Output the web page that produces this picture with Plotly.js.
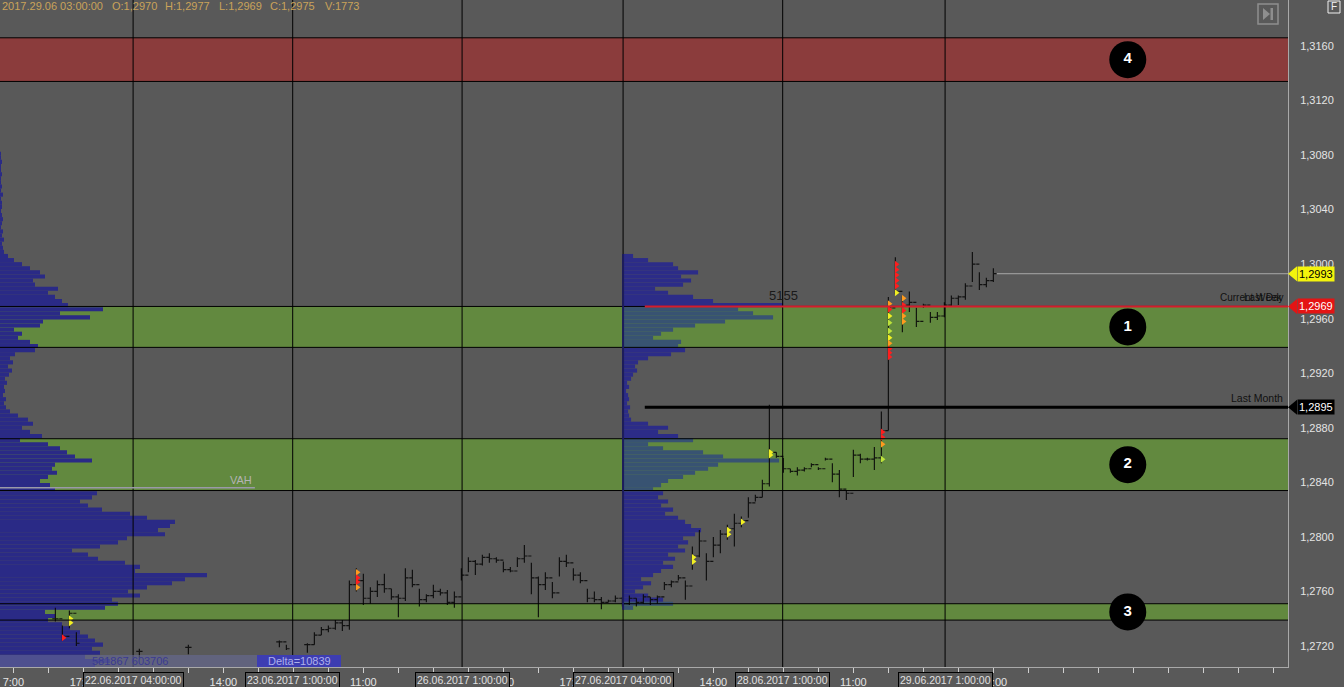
<!DOCTYPE html>
<html><head><meta charset="utf-8">
<script src="https://cdn.plot.ly/plotly-3.0.1.min.js"></script>
<style>html,body{margin:0;padding:0;background:#595959;overflow:hidden}#chart{width:1344px;height:687px}</style>
</head><body><div id="chart"></div>
<script>
// ---------------- DATA ----------------
// Hourly bars (hour index on the time axis)
const barHourHead = [6, 7, 8, 9, 18, 25, 38, 39];
const barHourRunStart = 42, barHourRunEnd = 140;   // consecutive hours 42..140
const barHigh = [
  1.2748, 1.2735, 1.2746, 1.2730, 1.2718, 1.2721, 1.2724, 1.2721,
  1.2722, 1.2730, 1.2734, 1.2735, 1.2739, 1.2739, 1.2768, 1.2777,
  1.2773, 1.2763, 1.2768, 1.2773, 1.2762, 1.2758, 1.2777, 1.2776, 1.2762, 1.2758,
  1.2765, 1.2762, 1.2761, 1.2760, 1.2777, 1.2785, 1.2783, 1.2787, 1.2788, 1.2785,
  1.2782, 1.2778, 1.2785, 1.2794, 1.2781, 1.2771, 1.2774, 1.2767, 1.2785, 1.2787,
  1.2777, 1.2774, 1.2762, 1.2760, 1.2756, 1.2754, 1.2757, 1.2756, 1.2757, 1.2755,
  1.2758, 1.2756, 1.2757, 1.2767, 1.2768, 1.2772, 1.2768, 1.2793, 1.2805, 1.2788,
  1.2800, 1.2805, 1.2809, 1.2817, 1.2815, 1.2829, 1.2831, 1.2842, 1.2897, 1.2862,
  1.2858, 1.2850, 1.2851, 1.2851, 1.2854, 1.2851, 1.2858, 1.2854, 1.2849, 1.2834,
  1.2864, 1.2861, 1.2858, 1.2866, 1.2892, 1.2976, 1.3005, 1.2977, 1.2980, 1.2968,
  1.2971, 1.2965, 1.2965, 1.2972, 1.2977, 1.2977, 1.2986, 1.3009, 1.2994, 1.2990, 1.2997
];
const barLow = [
  1.2738, 1.2724, 1.2733, 1.2720, 1.2711, 1.2714, 1.2719, 1.2717,
  1.2715, 1.2721, 1.2728, 1.2730, 1.2732, 1.2731, 1.2732, 1.2760,
  1.2750, 1.2751, 1.2756, 1.2759, 1.2754, 1.2741, 1.2753, 1.2763, 1.2749, 1.2752,
  1.2755, 1.2757, 1.2750, 1.2748, 1.2768, 1.2774, 1.2772, 1.2779, 1.2781, 1.2781,
  1.2774, 1.2774, 1.2778, 1.2781, 1.2758, 1.2741, 1.2761, 1.2755, 1.2771, 1.2778,
  1.2768, 1.2766, 1.2752, 1.2752, 1.2747, 1.2752, 1.2752, 1.2749, 1.2750, 1.2749,
  1.2751, 1.2750, 1.2751, 1.2761, 1.2763, 1.2768, 1.2754, 1.2776, 1.2785, 1.2768,
  1.2785, 1.2788, 1.2798, 1.2793, 1.2807, 1.2814, 1.2826, 1.2829, 1.2837, 1.2858,
  1.2847, 1.2847, 1.2845, 1.2848, 1.2851, 1.2849, 1.2856, 1.2840, 1.2829, 1.2827,
  1.2844, 1.2854, 1.2856, 1.2849, 1.2854, 1.2878, 1.2978, 1.2950, 1.2965, 1.2954,
  1.2968, 1.2957, 1.2959, 1.2961, 1.2969, 1.2970, 1.2974, 1.2987, 1.2981, 1.2983, 1.2987
];
const barClose = [
  1.2740, 1.2727, 1.2744, 1.2722, 1.2716, 1.2719, 1.2723, 1.2718,
  1.2721, 1.2728, 1.2732, 1.2733, 1.2737, 1.2735, 1.2765, 1.2768,
  1.2755, 1.2760, 1.2765, 1.2762, 1.2756, 1.2755, 1.2770, 1.2765, 1.2754, 1.2757,
  1.2760, 1.2759, 1.2752, 1.2756, 1.2772, 1.2782, 1.2780, 1.2785, 1.2784, 1.2783,
  1.2776, 1.2775, 1.2784, 1.2786, 1.2770, 1.2765, 1.2770, 1.2759, 1.2782, 1.2781,
  1.2772, 1.2768, 1.2755, 1.2754, 1.2752, 1.2753, 1.2755, 1.2751, 1.2755, 1.2752,
  1.2756, 1.2754, 1.2756, 1.2765, 1.2767, 1.2770, 1.2764, 1.2786, 1.2797, 1.2782,
  1.2794, 1.2802, 1.2806, 1.2810, 1.2812, 1.2825, 1.2829, 1.2839, 1.2862, 1.2859,
  1.2850, 1.2848, 1.2849, 1.2850, 1.2853, 1.2850, 1.2857, 1.2846, 1.2835, 1.2832,
  1.2860, 1.2857, 1.2857, 1.2858, 1.2878, 1.2968, 1.2980, 1.2970, 1.2972, 1.2958,
  1.2970, 1.2961, 1.2962, 1.2970, 1.2975, 1.2976, 1.2984, 1.3000, 1.2985, 1.2988, 1.2993
];

// Footprint highlights (hour, price, intensity)
const hlHour  = [7, 8, 8, 49, 49, 49, 49, 97, 97, 102, 102, 104, 108, 108,
                 124, 124, 124, 124,
                 125, 125, 125, 125, 125, 125, 125, 125, 125, 125,
                 126, 126, 126, 126, 126, 126,
                 127, 127, 127, 127, 127];
const hlPrice = [1.2726, 1.2740, 1.2737, 1.2774, 1.2770, 1.2767, 1.2763, 1.2785, 1.2782, 1.2805, 1.2802, 1.2811, 1.2862, 1.2860,
                 1.2877, 1.2873, 1.2868, 1.2857,
                 1.2971, 1.2967, 1.2962, 1.2957, 1.2951, 1.2946, 1.2942, 1.2938, 1.2935, 1.2932,
                 1.3000, 1.2996, 1.2992, 1.2988, 1.2984, 1.2979,
                 1.2975, 1.2970, 1.2966, 1.2962, 1.2958];
const hlLevel = ["hot", "warm", "warm", "mid", "hot", "hot", "mid", "warm", "warm", "warm", "warm", "warm", "warm", "warm",
                 "hot", "hot", "mid", "cool",
                 "mid", "hot", "warm", "cool", "cool", "warm", "mid", "hot", "hot", "hot",
                 "hot", "hot", "hot", "hot", "hot", "warm",
                 "mid", "hot", "hot", "mid", "mid"];

// Volume profiles (relative volume per 0.0003 price level)
const LEVEL_STEP = 0.0003;
const leftProfileStart = 1.2706;
const leftVolume = [
  95,110,85,100,92,103,95,88,80,70,
  62,48,55,45,105,118,112,140,128,147,
  172,185,207,135,140,125,98,88,72,100,
  118,127,165,158,170,175,147,130,102,88,
  80,92,97,55,50,40,48,57,52,55,
  92,75,67,60,48,20,42,30,22,33,
  28,18,10,6,4,6,3,5,4,7,
  5,9,12,8,13,10,15,35,38,30,
  18,22,14,40,43,90,60,103,68,62,
  55,48,58,35,33,45,40,30,22,14,
  8,4,3,2,4,2,3,1,2,3,
  2,1,2,2,1,3,1,2,1,1,
  2,1,1,2,1,1
];
const rightProfileStart = 1.2748;
const rightVolume = [
  10,50,40,25,12,20,
  28,18,30,38,50,40,52,45,62,55,
  65,60,72,78,68,62,55,42,50,38,
  45,35,40,30,38,45,60,72,85,95,
  156,100,80,40,25,70,55,35,45,25,
  8,6,5,7,4,6,5,3,6,4,
  8,10,14,12,15,25,48,62,55,58,
  30,38,50,72,102,150,130,115,160,90,
  70,45,32,60,68,58,75,55,50,25,
  10
];
const pocVolumeLabel = "5155";

// Zones
const zoneLabel = ["4", "1", "2", "3"];
const zoneLow   = [1.3134, 1.2939, 1.2834, 1.2739];
const zoneHigh  = [1.3166, 1.2969, 1.2872, 1.2751];
const zoneKind  = ["supply", "demand", "demand", "demand"];

// Reference levels
const levelName  = ["Current Week", "Last Day", "Last Month"];
const levelPrice = [1.2969, 1.2969, 1.2895];
const lastPrice = 1.2993;
const vahPrice = 1.2836;

// Sessions
const sessionStart = [17.1, 39.9, 64.1, 87.1, 109.9, 133.1];
const sessionText = ["22.06.2017 04:00:00", "23.06.2017 1:00:00", "26.06.2017 1:00:00",
                     "27.06.2017 04:00:00", "28.06.2017 1:00:00", "29.06.2017 1:00:00"];

// Axis ticks
const xLabelHours = [0, 10, 30, 50, 70, 80, 100, 120, 140];
const xLabelText  = ["7:00", "17:00", "14:00", "11:00", "7:00", "17:00", "14:00", "11:00", "03:00"];
const yTickVals = [1.2720, 1.2760, 1.2800, 1.2840, 1.2880, 1.2920, 1.2960, 1.3000, 1.3040, 1.3080, 1.3120, 1.3160];
const yTickText = ["1,2720", "1,2760", "1,2800", "1,2840", "1,2880", "1,2920", "1,2960", "1,3000", "1,3040", "1,3080", "1,3120", "1,3160"];

const infoText = ["2017.29.06 03:00:00", "O:1,2970", "H:1,2977", "L:1,2969", "C:1,2975", "V:1773"];
const bottomStats = "581867 603706";
const deltaText = "Delta=10839";

// ---------------- LAYOUT / STYLE ----------------
const W = 1344, H = 687, PW = 1288, PH = 667;
const X_MIN = -1.914, X_MAX = 182.09;
const Y_MIN = 1.27046, Y_MAX = 1.319373;
const PROFILE_SCALE = 7;      // relative volume units per hour width
const LABEL_HOUR = 159.2;
const LEVEL_LINE_START = 90.2;
const VAH_END = 34.5;
const BG = "#595959";
const FONT = "Liberation Sans, Arial, sans-serif";
const zoneColor = {supply: "#8b3c3c", demand: "#62893f"};
const hlColor = {hot: "#ff1e1e", mid: "#ff9b1e", warm: "#f2f023", cool: "#bde23a"};

const px = v => v / PW;                 // pixel x -> paper x
const py = v => (PH - v) / PH;          // pixel y -> paper y
const pricePerPx = (Y_MAX - Y_MIN) / PH;

// derived bars
const barHour = barHourHead.slice();
for (let h = barHourRunStart; h <= barHourRunEnd; h++) barHour.push(h);
const barOpen = barClose.map((c, i) => (i > 0 && barHour[i] - barHour[i - 1] === 1) ? barClose[i - 1] : c);

const mkLevels = (start, n) => Array.from({length: n}, (_, k) => +(start + LEVEL_STEP * k).toFixed(4));
const leftLevels = mkLevels(leftProfileStart, leftVolume.length);
const rightLevels = mkLevels(rightProfileStart, rightVolume.length);
const inDemand = p => zoneKind.some((k, i) => k === "demand" && p >= zoneLow[i] && p <= zoneHigh[i]);
const rightColors = rightLevels.map(p => inDemand(p) ? "#385372" : "#2c2c88");
const pocIdx = rightVolume.indexOf(Math.max(...rightVolume));

const xTickVals = [];
for (let h = 0; h <= 180; h += 5) xTickVals.push(h);
const xTickText = xTickVals.map(h => { const k = xLabelHours.indexOf(h); return k >= 0 ? xLabelText[k] : ""; });

const traces = [
  {type: "bar", orientation: "h", y: leftLevels, x: leftVolume.map(v => v / PROFILE_SCALE),
   base: X_MIN, width: LEVEL_STEP, marker: {color: "#2a2a86", line: {width: 0}}, hoverinfo: "skip"},
  {type: "bar", orientation: "h", y: rightLevels, x: rightVolume.map(v => v / PROFILE_SCALE),
   base: sessionStart[3], width: LEVEL_STEP, marker: {color: rightColors, line: {width: 0}}, hoverinfo: "skip"},
  {type: "ohlc", x: barHour, open: barOpen, high: barHigh, low: barLow, close: barClose,
   tickwidth: 0.45,
   increasing: {line: {color: "rgba(10,10,10,0.9)", width: 1.2}},
   decreasing: {line: {color: "rgba(10,10,10,0.9)", width: 1.2}}, hoverinfo: "skip"},
  {type: "scatter", mode: "markers", x: hlHour.map(h => h + 0.15), y: hlPrice,
   marker: {symbol: "triangle-right", size: 6, color: hlLevel.map(l => hlColor[l]), line: {width: 0}}, hoverinfo: "skip"},
  {type: "scatter", mode: "markers+text", x: zoneLabel.map(() => LABEL_HOUR),
   y: zoneLow.map((lo, i) => (lo + zoneHigh[i]) / 2),
   text: zoneLabel.map(t => "<b>" + t + "</b>"), textposition: "middle center",
   textfont: {family: FONT, size: 15, color: "#ffffff"},
   marker: {size: 37, color: "#000000"}, hoverinfo: "skip", cliponaxis: false}
];

const shapes = [];
zoneLow.forEach((lo, i) => {
  shapes.push({type: "rect", xref: "x", yref: "y", x0: X_MIN, x1: X_MAX, y0: lo, y1: zoneHigh[i],
    fillcolor: zoneColor[zoneKind[i]], line: {width: 0}, layer: "below"});
  [lo, zoneHigh[i]].forEach(v => shapes.push({type: "line", xref: "x", yref: "y", x0: X_MIN, x1: X_MAX, y0: v, y1: v,
    line: {color: "#000000", width: 1}, layer: "above"}));
});
sessionStart.forEach(s => shapes.push({type: "line", xref: "x", yref: "paper", x0: s, x1: s, y0: 0, y1: 1,
  line: {color: "#000000", width: 1}, layer: "above"}));
// profile spine
shapes.push({type: "line", xref: "x", yref: "y", x0: sessionStart[3], x1: sessionStart[3],
  y0: rightLevels[0] - LEVEL_STEP / 2, y1: rightLevels[rightLevels.length - 1] + LEVEL_STEP / 2,
  line: {color: "#1c1c5e", width: 2}, layer: "above"});
// level lines
shapes.push({type: "line", xref: "x", yref: "y", x0: LEVEL_LINE_START, x1: X_MAX, y0: levelPrice[0], y1: levelPrice[0],
  line: {color: "#d41c2c", width: 2}, layer: "above"});
shapes.push({type: "line", xref: "x", yref: "y", x0: LEVEL_LINE_START, x1: X_MAX, y0: levelPrice[2], y1: levelPrice[2],
  line: {color: "#000000", width: 3}, layer: "above"});
shapes.push({type: "line", xref: "x", yref: "y", x0: barHour[barHour.length - 1] + 0.5, x1: X_MAX, y0: lastPrice, y1: lastPrice,
  line: {color: "#a8a8a8", width: 1}, layer: "above"});
shapes.push({type: "line", xref: "x", yref: "y", x0: X_MIN, x1: VAH_END, y0: vahPrice, y1: vahPrice,
  line: {color: "#9a9aa8", width: 1.5}, layer: "above"});
// price flags
const flags = [[lastPrice, "#f4f40c", "#000000"], [levelPrice[0], "#e41414", "#ffffff"], [levelPrice[2], "#000000", "#ffffff"]];
const halfH = 7.5 * pricePerPx;
flags.forEach(([p, bg]) => shapes.push({type: "path", xref: "paper", yref: "y",
  path: `M ${px(1288)},${p} L ${px(1297)},${p + halfH} L ${px(1297)},${p - halfH} Z`,
  fillcolor: bg, line: {width: 0}, layer: "above"}));
// bottom stats band and delta box
shapes.push({type: "rect", xref: "paper", yref: "paper", x0: 0, x1: px(257), y0: py(667), y1: py(655),
  fillcolor: "rgba(104,106,150,0.6)", line: {width: 0}, layer: "above"});
shapes.push({type: "rect", xref: "paper", yref: "paper", x0: px(257), x1: px(341), y0: py(667), y1: py(655),
  fillcolor: "#3d3db2", line: {width: 0}, layer: "above"});
// navigation button
shapes.push({type: "rect", xref: "paper", yref: "paper", x0: px(1258), x1: px(1278), y0: py(24), y1: py(4),
  line: {color: "#8e8e8e", width: 1.5}, layer: "above"});
shapes.push({type: "path", xref: "paper", yref: "paper",
  path: `M ${px(1263)},${py(8)} L ${px(1263)},${py(20)} L ${px(1270)},${py(14)} Z`,
  fillcolor: "#8e8e8e", line: {width: 0}, layer: "above"});
shapes.push({type: "rect", xref: "paper", yref: "paper", x0: px(1270.5), x1: px(1273), y0: py(20), y1: py(8),
  fillcolor: "#8e8e8e", line: {width: 0}, layer: "above"});
shapes.push({type: "rect", xref: "paper", yref: "paper", x0: px(1328), x1: px(1340), y0: py(13), y1: py(1),
  line: {color: "#f0f0f0", width: 1}, layer: "above"});

const annotations = [];
const infoX = [0, 110, 163, 217, 268, 323];
infoText.forEach((t, i) => annotations.push({xref: "paper", yref: "paper", x: px(infoX[i]), y: py(6),
  xanchor: "left", yanchor: "middle", text: t, showarrow: false,
  font: {family: FONT, size: 11, color: "#c9a35a"}}));
sessionStart.forEach((s, i) => annotations.push({xref: "x", yref: "paper", x: s, y: py(680),
  xanchor: "center", yanchor: "middle", text: sessionText[i], showarrow: false,
  bgcolor: BG, bordercolor: "#000000", borderwidth: 1, borderpad: 1,
  font: {family: FONT, size: 10.5, color: "#e0e0e0"}}));
// level labels
annotations.push({xref: "paper", yref: "y", x: px(1285), y: levelPrice[0], xanchor: "right", yanchor: "bottom",
  text: levelName[0], showarrow: false, font: {family: FONT, size: 10, color: "#111111"}, yshift: 1});
annotations.push({xref: "paper", yref: "y", x: px(1285), y: levelPrice[1], xanchor: "right", yanchor: "bottom",
  text: levelName[1], showarrow: false, font: {family: FONT, size: 10, color: "#111111"}, yshift: 1});
annotations.push({xref: "paper", yref: "y", x: px(1285), y: levelPrice[2], xanchor: "right", yanchor: "bottom",
  text: levelName[2], showarrow: false, font: {family: FONT, size: 10.5, color: "#111111"}, yshift: 1});
// flags text
flags.forEach(([p, bg, fg]) => annotations.push({xref: "paper", yref: "y", x: px(1297), y: p,
  xanchor: "left", yanchor: "middle", text: p.toFixed(4).replace(".", ","), showarrow: false,
  bgcolor: bg, borderpad: 1, font: {family: FONT, size: 11, color: fg}}));
// POC label
annotations.push({xref: "x", yref: "y", x: sessionStart[3] + rightVolume[pocIdx] / PROFILE_SCALE, y: rightLevels[pocIdx],
  xanchor: "center", yanchor: "bottom", text: pocVolumeLabel, showarrow: false, yshift: 0,
  font: {family: FONT, size: 13, color: "#1a1a1a"}});
// VAH
annotations.push({xref: "x", yref: "y", x: VAH_END - 2, y: vahPrice, xanchor: "center", yanchor: "bottom",
  text: "VAH", showarrow: false, font: {family: FONT, size: 11, color: "#b4b4b4"}});
// bottom stats
annotations.push({xref: "paper", yref: "paper", x: px(130), y: py(661), xanchor: "center", yanchor: "middle",
  text: bottomStats, showarrow: false, font: {family: FONT, size: 11, color: "#3a3a92"}});
annotations.push({xref: "paper", yref: "paper", x: px(299), y: py(661), xanchor: "center", yanchor: "middle",
  text: deltaText, showarrow: false, font: {family: FONT, size: 11, color: "#aeb0ec"}});
annotations.push({xref: "paper", yref: "paper", x: px(1334), y: py(7), xanchor: "center", yanchor: "middle",
  text: "F", showarrow: false, font: {family: FONT, size: 10, color: "#f0f0f0"}});

const layout = {
  width: W, height: H,
  margin: {l: 0, r: W - PW, t: 0, b: H - PH, pad: 0},
  paper_bgcolor: BG, plot_bgcolor: BG,
  showlegend: false, barmode: "overlay", hovermode: false,
  xaxis: {range: [X_MIN, X_MAX], showgrid: false, zeroline: false, showline: true, linecolor: "#a9a9a9", linewidth: 1,
    ticks: "outside", ticklen: 5, tickcolor: "#cfcfcf", tickwidth: 1,
    tickmode: "array", tickvals: xTickVals, ticktext: xTickText,
    tickfont: {family: FONT, size: 11, color: "#e4e4e4"}, rangeslider: {visible: false}, fixedrange: true},
  yaxis: {range: [Y_MIN, Y_MAX], side: "right", showgrid: false, zeroline: false, showline: true,
    linecolor: "#a9a9a9", linewidth: 1, ticks: "", tickmode: "array", tickvals: yTickVals, ticktext: yTickText,
    ticklabelstandoff: 9, tickfont: {family: FONT, size: 11, color: "#e4e4e4"}, fixedrange: true},
  shapes: shapes, annotations: annotations
};

Plotly.newPlot("chart", traces, layout, {staticPlot: true, displayModeBar: false});
</script></body></html>
